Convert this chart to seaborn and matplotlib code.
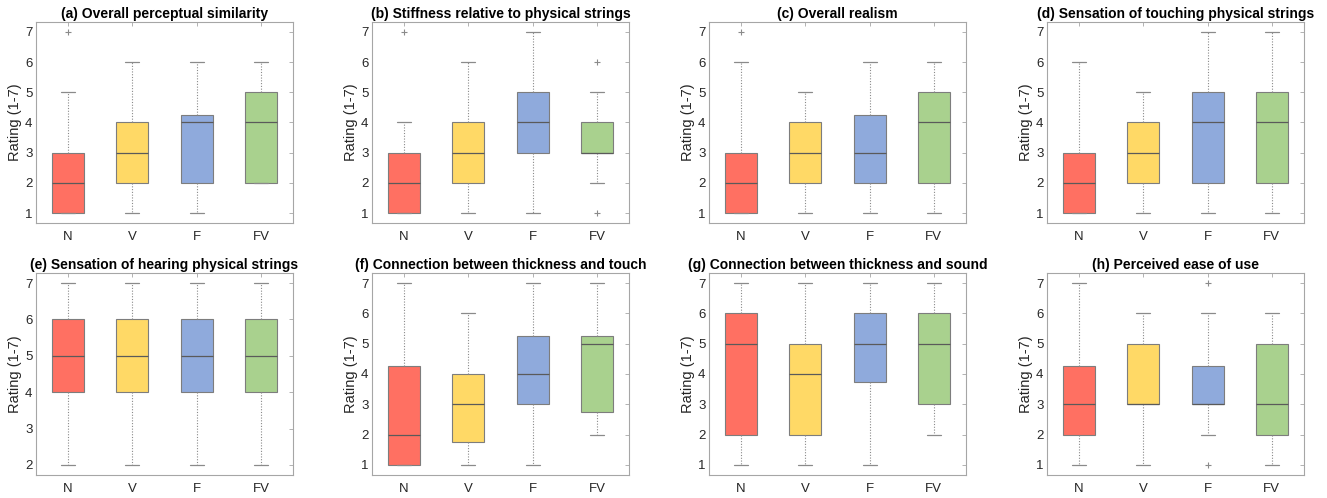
import numpy as np
import pandas as pd
import matplotlib
matplotlib.use("Agg")
import matplotlib.pyplot as plt
import seaborn as sns

# ---------------- data ----------------
conditions = ["N", "V", "F", "FV"]
palette = ["#FF7062", "#FFD966", "#8FAADC", "#A9D18E"]

titles = [
    "(a) Overall perceptual similarity",
    "(b) Stiffness relative to physical strings",
    "(c) Overall realism",
    "(d) Sensation of touching physical strings",
    "(e) Sensation of hearing physical strings",
    "(f) Connection between thickness and touch",
    "(g) Connection between thickness and sound",
    "(h) Perceived ease of use",
]

# five-number summaries per condition (N, V, F, FV):
# [lower whisker, Q1, median, Q3, upper whisker]
summary_a = [[1, 1, 2, 3, 5], [1, 2, 3, 4, 6], [1, 2, 4, 4.25, 6], [2, 2, 4, 5, 6]]
summary_b = [[1, 1, 2, 3, 4], [1, 2, 3, 4, 6], [1, 3, 4, 5, 7], [2, 3, 3, 4, 5]]
summary_c = [[1, 1, 2, 3, 6], [1, 2, 3, 4, 5], [1, 2, 3, 4.25, 6], [1, 2, 4, 5, 6]]
summary_d = [[1, 1, 2, 3, 6], [1, 2, 3, 4, 5], [1, 2, 4, 5, 7], [1, 2, 4, 5, 7]]
summary_e = [[2, 4, 5, 6, 7], [2, 4, 5, 6, 7], [2, 4, 5, 6, 7], [2, 4, 5, 6, 7]]
summary_f = [[1, 1, 2, 4.25, 7], [1, 1.75, 3, 4, 6], [1, 3, 4, 5.25, 7], [2, 2.75, 5, 5.25, 7]]
summary_g = [[1, 2, 5, 6, 7], [1, 2, 4, 5, 7], [1, 3.75, 5, 6, 7], [2, 3, 5, 6, 7]]
summary_h = [[1, 2, 3, 4.25, 7], [1, 3, 3, 5, 6], [2, 3, 3, 4.25, 6], [1, 2, 3, 5, 6]]

# outliers per condition
outliers_a = {"N": [7]}
outliers_b = {"N": [7], "FV": [1, 6]}
outliers_c = {"N": [7]}
outliers_d = {}
outliers_e = {}
outliers_f = {}
outliers_g = {}
outliers_h = {"F": [1, 7]}

summaries = [summary_a, summary_b, summary_c, summary_d,
             summary_e, summary_f, summary_g, summary_h]
outliers = [outliers_a, outliers_b, outliers_c, outliers_d,
            outliers_e, outliers_f, outliers_g, outliers_h]

# ---------------- style ----------------
sns.set_theme(style="white")
plt.rcParams["font.family"] = ["Liberation Sans", "DejaVu Sans"]
plt.rcParams["axes.edgecolor"] = "#a6a6a6"
plt.rcParams["axes.linewidth"] = 0.8

fig = plt.figure(figsize=(13.27, 4.98), dpi=100)

W, H = 1327.0, 498.0
lefts = [36, 372, 709, 1047]
rows = [(22, 223), (273, 475)]
axw = 257

edge = "#7d7d7d"
for i in range(8):
    r, c = divmod(i, 4)
    top, bot = rows[r]
    ax = fig.add_axes([lefts[c] / W, 1 - bot / H, axw / W, (bot - top) / H])

    recs = []
    for cond, vals in zip(conditions, summaries[i]):
        for v in vals:
            recs.append({"cond": cond, "rating": v})
    df = pd.DataFrame(recs)

    sns.boxplot(data=df, x="cond", y="rating", order=conditions,
                hue="cond", hue_order=conditions, palette=palette,
                legend=False, width=0.5, whis=(0, 100), saturation=1,
                linewidth=0.8, linecolor=edge, showfliers=False,
                capwidths=0.22,
                medianprops=dict(color="#5a5a5a", linewidth=0.9),
                whiskerprops=dict(color="#8a8a8a", linestyle=(0, (1, 1.5)), linewidth=0.8),
                capprops=dict(color="#8a8a8a", linewidth=0.9),
                ax=ax)

    orecs = []
    for cond, vals in outliers[i].items():
        for v in vals:
            orecs.append({"cond": cond, "rating": v})
    if orecs:
        dfo = pd.DataFrame(orecs)
        sns.stripplot(data=dfo, x="cond", y="rating", order=conditions,
                      jitter=False, marker="+", color="#8a8a8a",
                      size=5, linewidth=0.8, ax=ax)

    allv = [v for vals in summaries[i] for v in vals] + \
           [v for vals in outliers[i].values() for v in vals]
    lo, hi = min(allv), max(allv)
    pad = 0.055 * (hi - lo)
    ax.set_ylim(lo - pad, hi + pad)
    ax.set_yticks(range(int(np.ceil(lo)), int(hi) + 1))
    ax.set_xlim(-0.5, 3.5)
    ax.set_xlabel("")
    ax.set_ylabel("Rating (1-7)", fontsize=10.5, color="#262626", labelpad=2)
    ax.set_title(titles[i], fontsize=10, fontweight="bold", color="black", pad=3)
    ax.tick_params(axis="both", direction="in", top=True, right=True,
                   length=3, width=0.6, color="#a6a6a6",
                   labelsize=9.5, labelcolor="#262626")
    ax.tick_params(axis="y", pad=2.5)
    ax.tick_params(axis="x", pad=6)

fig.savefig("out.png", dpi=100)
